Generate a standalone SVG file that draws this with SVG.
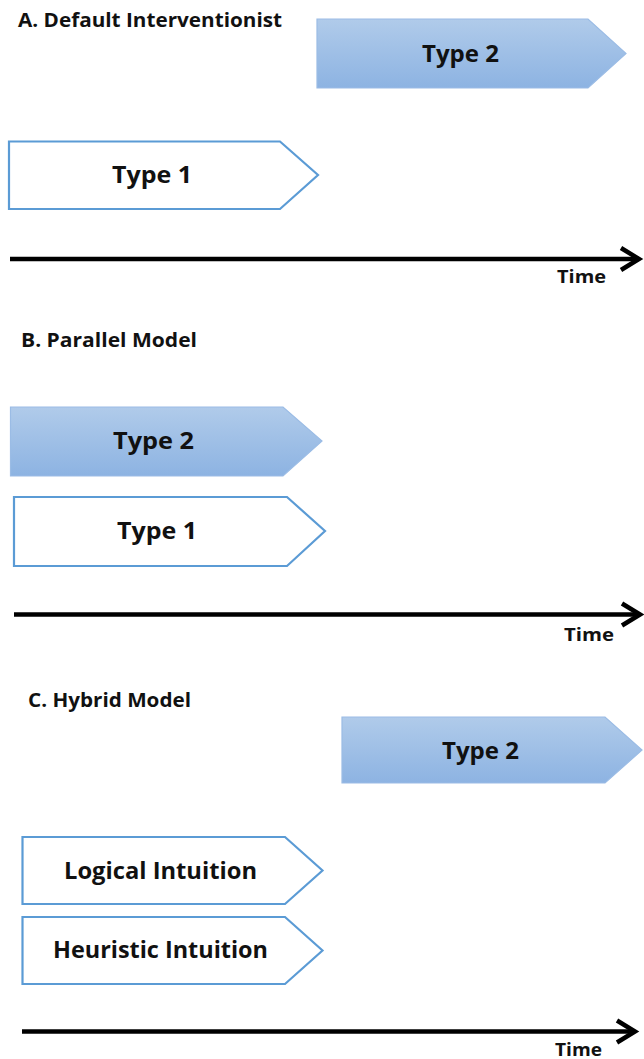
<svg xmlns="http://www.w3.org/2000/svg" width="644" height="1059" viewBox="0 0 644 1059">
  <style>
    text { font-family: "Open Sans", "Liberation Sans", Arial, sans-serif; font-weight: bold; fill: #111; }
    .title { font-size: 19px; }
    .label { font-size: 24px; text-anchor: middle; }
    .time { font-size: 18px; }
    .filled { fill: url(#blueGrad); stroke: #9bbce5; stroke-width: 1.2; }
    .outline { fill: #ffffff; stroke: #5b9bd5; stroke-width: 2.2; }
    .axis { fill: none; stroke: #000; stroke-width: 4.5; marker-end: url(#chev); }
  </style>
  <defs>
    <linearGradient id="blueGrad" x1="0" y1="0" x2="0" y2="1">
      <stop offset="0" stop-color="#b0cbea"/>
      <stop offset="1" stop-color="#8db3e2"/>
    </linearGradient>
    <marker id="chev" markerUnits="userSpaceOnUse" markerWidth="40" markerHeight="40" refX="0" refY="0" viewBox="-30 -20 40 40" orient="auto" overflow="visible">
      <path d="M -18 -11 L 0 0 L -18 11" fill="none" stroke="#000" stroke-width="4.5" stroke-linejoin="miter" stroke-linecap="butt"/>
    </marker>
  </defs>

  <rect x="0" y="0" width="644" height="1059" fill="#ffffff"/>

  <!-- Section A -->
  <text class="title" x="18" y="26.5" textLength="264" lengthAdjust="spacingAndGlyphs">A. Default Interventionist</text>
  <g id="a-type2">
    <polygon class="filled" points="317,19 588,19 626,53.5 588,88 317,88"/>
    <text class="label" x="460.5" y="62" textLength="77" lengthAdjust="spacingAndGlyphs">Type 2</text>
  </g>
  <g id="a-type1">
    <polygon class="outline" points="9,141.5 280,141.5 318,175 280,209 9,209"/>
    <text class="label" x="152" y="183" textLength="80" lengthAdjust="spacingAndGlyphs">Type 1</text>
  </g>
  <text class="time" x="557" y="283" textLength="49" lengthAdjust="spacingAndGlyphs">Time</text>

  <!-- Section B -->
  <text class="title" x="21" y="346.5" textLength="176" lengthAdjust="spacingAndGlyphs">B. Parallel Model</text>
  <g id="b-type2">
    <polygon class="filled" points="10.5,407 283,407 322,441 283,476 10.5,476"/>
    <text class="label" x="153.5" y="448.5" textLength="81" lengthAdjust="spacingAndGlyphs">Type 2</text>
  </g>
  <g id="b-type1">
    <polygon class="outline" points="14,497 287,497 325,531 287,566 14,566"/>
    <text class="label" x="157" y="538.5" textLength="80" lengthAdjust="spacingAndGlyphs">Type 1</text>
  </g>
  <text class="time" x="564" y="641" textLength="50" lengthAdjust="spacingAndGlyphs">Time</text>

  <!-- Section C -->
  <text class="title" x="28" y="707" textLength="163" lengthAdjust="spacingAndGlyphs">C. Hybrid Model</text>
  <g id="c-type2">
    <polygon class="filled" points="342,717 605,717 642,750 605,783 342,783"/>
    <text class="label" x="480.5" y="758.5" textLength="77" lengthAdjust="spacingAndGlyphs">Type 2</text>
  </g>
  <g id="c-logical">
    <polygon class="outline" points="22.5,837 285,837 322.5,870.5 285,904 22.5,904"/>
    <text class="label" x="160.5" y="878.5" textLength="193" lengthAdjust="spacingAndGlyphs">Logical Intuition</text>
  </g>
  <g id="c-heuristic">
    <polygon class="outline" points="22.5,917 285,917 322.5,950.5 285,984 22.5,984"/>
    <text class="label" x="160.5" y="958" textLength="215" lengthAdjust="spacingAndGlyphs">Heuristic Intuition</text>
  </g>
  <text class="time" x="555" y="1056" textLength="47" lengthAdjust="spacingAndGlyphs">Time</text>

  <!-- Connectors (time axes) -->
  <g id="connectors">
    <path class="axis" d="M 10 259 L 639 259"/>
    <path class="axis" d="M 14 614.5 L 640 614.5"/>
    <path class="axis" d="M 22 1031.5 L 635 1031.5"/>
  </g>
</svg>
